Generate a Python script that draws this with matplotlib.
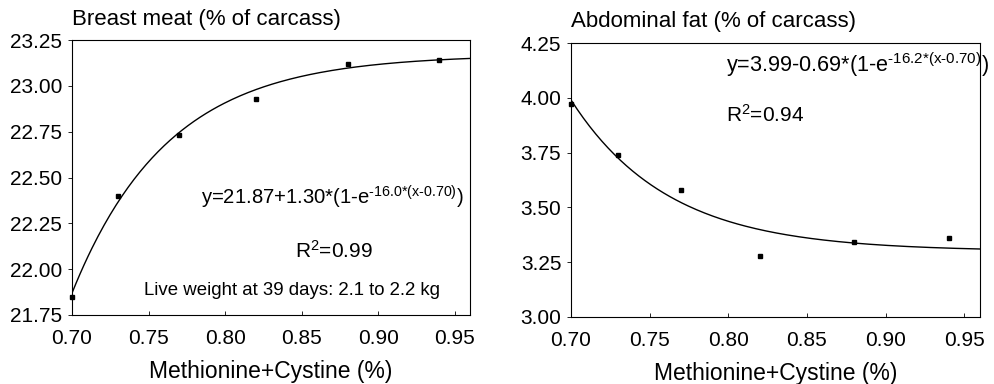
import numpy as np
import matplotlib
matplotlib.use('Agg')
import matplotlib.pyplot as plt

plt.rcParams['font.family'] = ['Liberation Sans', 'DejaVu Sans']
plt.rcParams['font.size'] = 14
plt.rcParams['mathtext.fontset'] = 'custom'
plt.rcParams['mathtext.rm'] = 'Liberation Sans'
plt.rcParams['mathtext.it'] = 'Liberation Sans:italic'
plt.rcParams['mathtext.bf'] = 'Liberation Sans:bold'
plt.rcParams['axes.unicode_minus'] = False

# Datos
met_cis = [0.70, 0.73, 0.77, 0.82, 0.88, 0.94]
pechuga = [21.85, 22.40, 22.73, 22.93, 23.12, 23.14]
grasa = [3.97, 3.74, 3.58, 3.28, 3.34, 3.36]

# Parametros de los ajustes (impresos en el grafico)
pechuga_a, pechuga_b, pechuga_k = 21.87, 1.30, 16.0
grasa_a, grasa_b, grasa_k = 3.99, -0.69, 16.2

x_ticks = [0.70, 0.75, 0.80, 0.85, 0.90, 0.95]
y_ticks_pechuga = [21.75, 22.00, 22.25, 22.50, 22.75, 23.00, 23.25]
y_ticks_grasa = [3.00, 3.25, 3.50, 3.75, 4.00, 4.25]

fig = plt.figure(figsize=(9.95, 3.84), dpi=100)
ax1 = fig.add_axes([0.0724, 0.1797, 0.400, 0.716])
ax2 = fig.add_axes([0.5739, 0.1745, 0.411, 0.7135])

xs = np.linspace(0.70, 0.96, 200)


def estilo(ax, yticks):
    ax.set_xlim(0.70, 0.96)
    ax.set_ylim(yticks[0], yticks[-1])
    ax.set_xticks(x_ticks)
    ax.set_xticklabels(['%.2f' % v for v in x_ticks])
    ax.set_yticks(yticks)
    ax.set_yticklabels(['%.2f' % v for v in yticks])
    ax.tick_params(axis='x', direction='in', length=3, width=0.6, pad=10, labelsize=15)
    ax.tick_params(axis='y', direction='out', length=3, width=0.6, pad=4, labelsize=15)
    for s in ax.spines.values():
        s.set_linewidth(0.8)
    ax.set_xlabel('Methionine+Cystine (%)', labelpad=9, fontsize=16.5)


# Panel izquierdo: pechuga
ax1.plot(xs, pechuga_a + pechuga_b * (1 - np.exp(-pechuga_k * (xs - 0.70))), color='black', lw=1)
ax1.plot(met_cis, pechuga, 's', color='black', ms=3.5, clip_on=False)
estilo(ax1, y_ticks_pechuga)
ax1.set_title('Breast meat (% of carcass)', loc='left', pad=11, fontsize=16)
ax1.text(0.956, 22.394, r'y=21.87+1.30*(1-e$^{\text{-16.0*(x-0.70)}}$)',
         ha='right', va='center', fontsize=14.6)
ax1.text(0.871, 22.10, r'R$^{\mathregular{2}}$=0.99', ha='center', va='center', fontsize=15)
ax1.text(0.844, 21.886, 'Live weight at 39 days: 2.1 to 2.2 kg', ha='center', va='center',
         fontsize=13.4)

# Panel derecho: grasa abdominal
ax2.plot(xs, grasa_a + grasa_b * (1 - np.exp(-grasa_k * (xs - 0.70))), color='black', lw=1)
ax2.plot(met_cis, grasa, 's', color='black', ms=3.5, clip_on=False)
estilo(ax2, y_ticks_grasa)
ax2.set_title('Abdominal fat (% of carcass)', loc='left', pad=11.5, fontsize=16)
ax2.text(0.7985, 4.15, r'y=3.99-0.69*(1-e$^{\text{-16.2*(x-0.70)}}$)',
         ha='left', va='center', fontsize=15.6)
ax2.text(0.7985, 3.92, r'R$^{\mathregular{2}}$=0.94', ha='left', va='center', fontsize=15)

fig.savefig('out.png', dpi=100)
